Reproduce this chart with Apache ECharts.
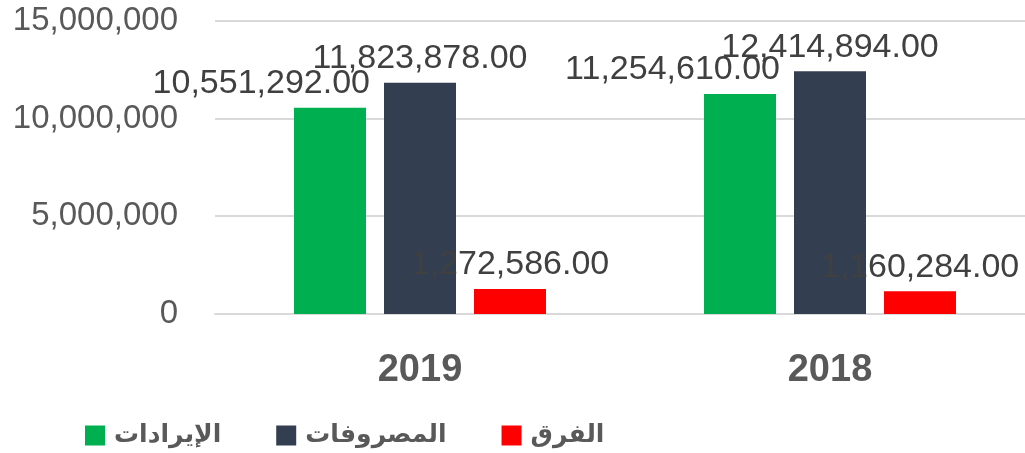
<!DOCTYPE html>
<html>
	<head>
		<meta charset="UTF-8">
		<title></title>
	</head>
	<body style="margin:0">
		<div id="main" style="width:1025px;height:453px;"></div>
	</body>
	<script src="https://cdn.jsdelivr.net/npm/echarts@6/dist/echarts.min.js" type="text/javascript" charset="utf-8"></script>
	<script type="text/javascript">
		var years = ['2019', '2018'];
		var seriesNames = ['الإيرادات', 'المصروفات', 'الفرق'];
		var revenues = [10551292, 11254610];
		var expenses = [11823878, 12414894];
		var diffs = [1272586, 1160284];
		var yTicks = [0, 5000000, 10000000, 15000000];

		var myChart = echarts.init(document.getElementById('main'));

		var fmtLabel = function (p) {
			return echarts.format.addCommas(p.value.toFixed(2));
		};
		var labelStyle = {
			show: true,
			position: 'top',
			distance: 7,
			color: '#404040',
			fontSize: 34,
			fontFamily: 'Liberation Sans, Arial, sans-serif',
			formatter: fmtLabel
		};

		option = {
			animation: false,
			grid: {
				left: 215,
				top: 20.7,
				bottom: 139,
				width: 820,
				outerBoundsMode: 'none'
			},
			legend: {
				left: 85,
				top: 423,
				padding: 0,
				itemWidth: 20,
				itemHeight: 20,
				itemGap: 55,
				icon: 'rect',
				textStyle: {
					color: '#595959',
					fontSize: 25,
					fontWeight: 'bold',
					padding: [0, 0, 0, 4],
					fontFamily: 'DejaVu Sans, sans-serif'
				},
				data: seriesNames
			},
			xAxis: {
				type: 'category',
				data: years,
				axisTick: { show: false },
				axisLine: { lineStyle: { color: '#d9d9d9', width: 2 } },
				axisLabel: {
					color: '#595959',
					fontSize: 38,
					fontWeight: 'bold',
					margin: 38,
					fontFamily: 'Liberation Sans, Arial, sans-serif'
				}
			},
			yAxis: {
				type: 'value',
				min: yTicks[0],
				max: yTicks[yTicks.length - 1],
				interval: 5000000,
				axisLine: { show: false },
				axisTick: { show: false },
				splitLine: { lineStyle: { color: '#d9d9d9', width: 2 } },
				axisLabel: {
					color: '#595959',
					fontSize: 33,
					margin: 37,
					fontFamily: 'Liberation Sans, Arial, sans-serif',
					formatter: function (v) { return echarts.format.addCommas(v); }
				}
			},
			series: [
				{
					name: seriesNames[0],
					type: 'bar',
					barWidth: 72,
					barGap: '25%',
					itemStyle: { color: '#00B050' },
					label: Object.assign({}, labelStyle, { align: 'right', offset: [40, 0] }),
					data: revenues
				},
				{
					name: seriesNames[1],
					type: 'bar',
					barWidth: 72,
					barGap: '25%',
					itemStyle: { color: '#333F50' },
					label: labelStyle,
					data: expenses
				},
				{
					name: seriesNames[2],
					type: 'bar',
					barWidth: 72,
					barGap: '25%',
					itemStyle: { color: '#FF0000' },
					label: labelStyle,
					data: diffs
				}
			]
		};
		myChart.setOption(option);
	</script>
</html>
